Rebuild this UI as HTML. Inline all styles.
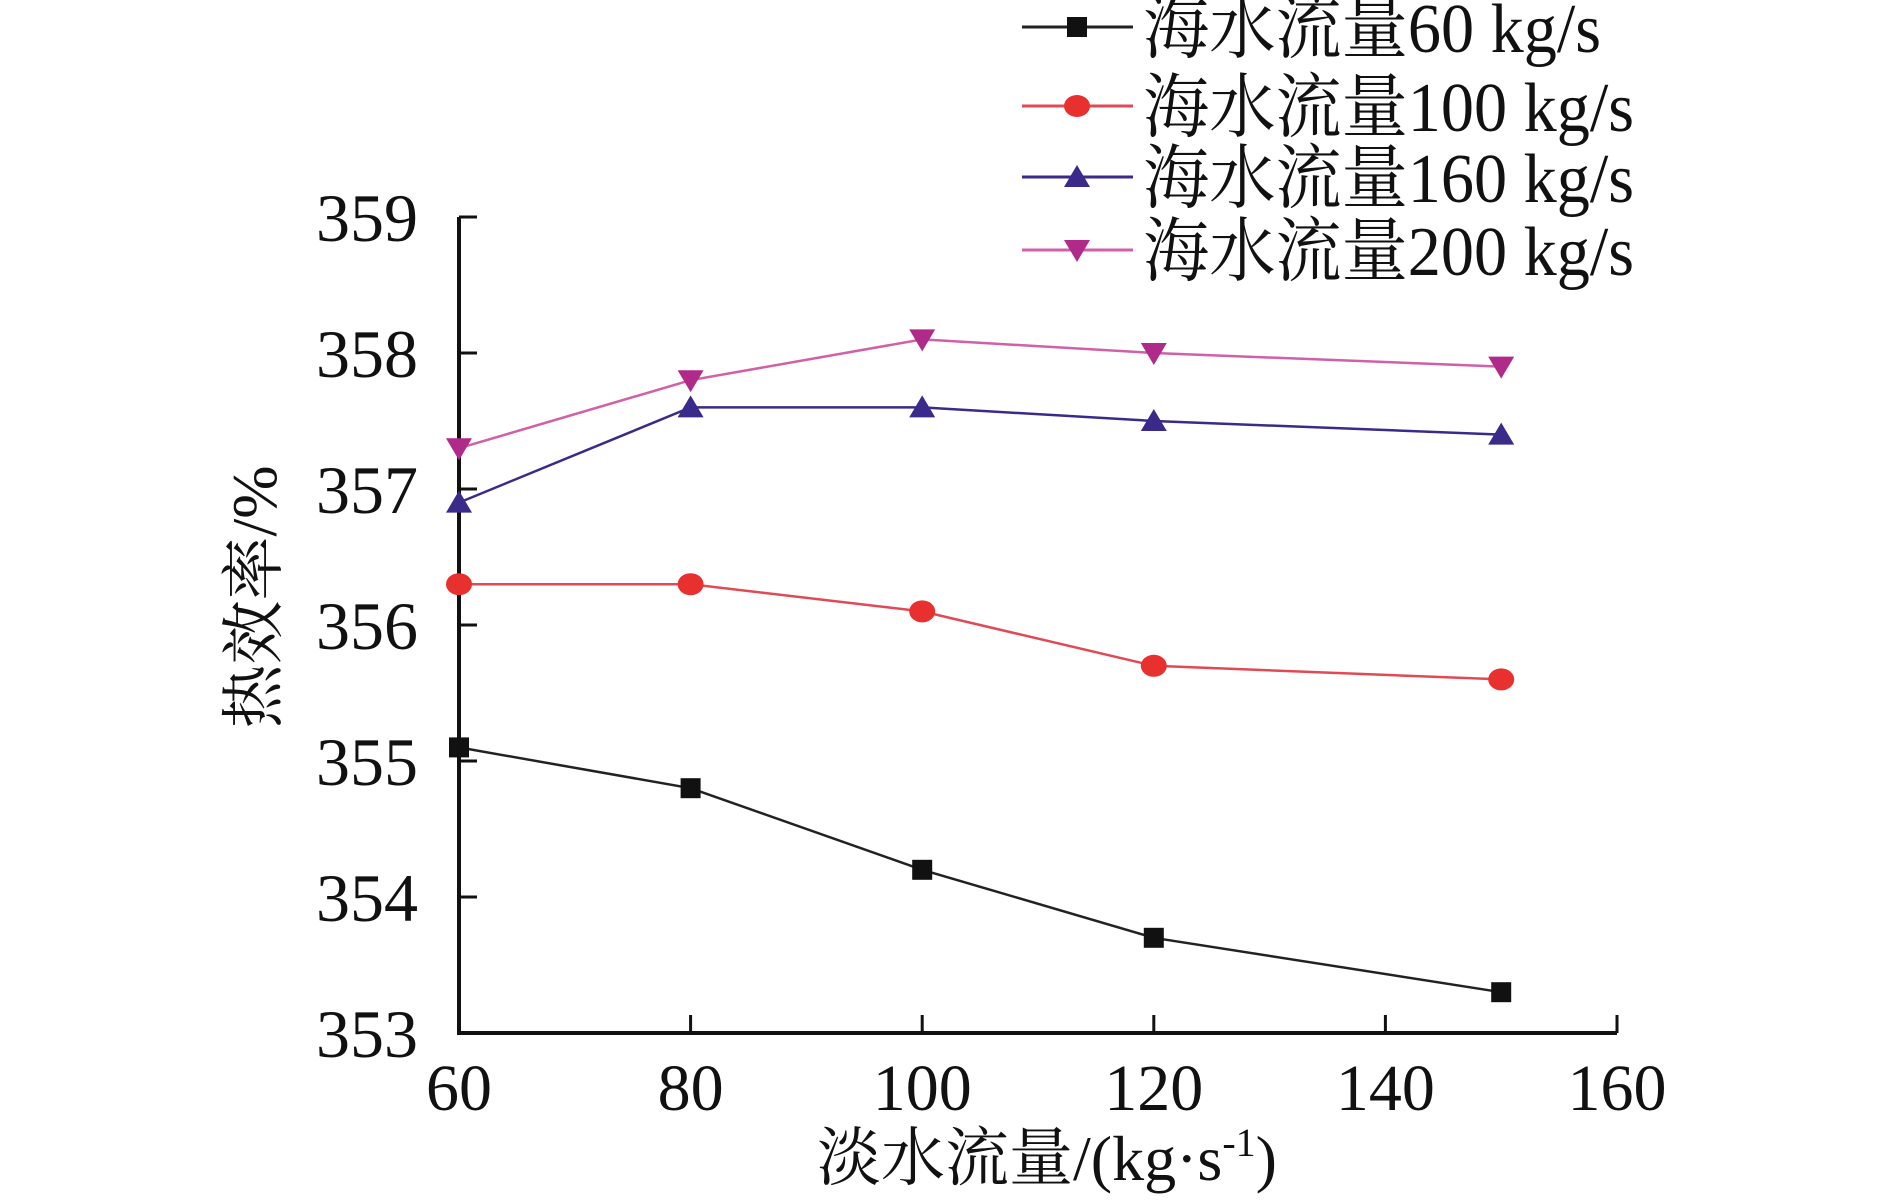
<!DOCTYPE html>
<html><head><meta charset="utf-8"><style>
body{margin:0;background:#fff}
svg text{font-family:"Liberation Serif","Noto Serif CJK SC",serif;fill:#111}
</style></head><body>
<svg id="chart" width="1890" height="1196" viewBox="0 0 1890 1196" xmlns="http://www.w3.org/2000/svg"></svg>
<script>
const categories=[60,80,100,120,150];
const s60=[355.1,354.8,354.2,353.7,353.3];
const s100=[356.3,356.3,356.1,355.7,355.6];
const s160=[356.9,357.6,357.6,357.5,357.4];
const s200=[357.3,357.8,358.1,358.0,357.9];
const xTicks=[60,80,100,120,140,160];
const yTicks=[353,354,355,356,357,358,359];
const seriesNames=["海水流量60 kg/s","海水流量100 kg/s","海水流量160 kg/s","海水流量200 kg/s"];

const NS="http://www.w3.org/2000/svg";
const svg=document.getElementById('chart');
const X0=459,X1=1617,Y0=1033,Y1=217;
function xs(v){return X0+(v-60)/(160-60)*(X1-X0);}
function ys(v){return Y0-(v-353)/(359-353)*(Y0-Y1);}
function mk(tag,attrs,parent){const e=document.createElementNS(NS,tag);for(const k in attrs)e.setAttribute(k,attrs[k]);(parent||svg).appendChild(e);return e;}

const ax=mk('path',{d:`M${X0} ${Y1}V${Y0}H${X1}`,stroke:'#111',fill:'none','stroke-width':4});


yTicks.forEach(t=>{
  const y=ys(t);
  const l=mk('line',{x1:X0,x2:X0+18,y1:y,y2:y,stroke:'#111','stroke-width':3});
  
  
  const tx=mk('text',{x:418,y:y+24,'text-anchor':'end','font-size':68});
  tx.textContent=t;
  
  
});
xTicks.forEach(t=>{
  const x=xs(t);
  const l=mk('line',{x1:x,x2:x,y1:Y0,y2:Y0-18,stroke:'#111','stroke-width':3});
  
  
  const tx=mk('text',{x:x,y:1110,'text-anchor':'middle','font-size':66});
  tx.textContent=t;
  
  
});
const xt=mk('text',{x:1047,y:1180,'text-anchor':'middle','font-size':64});
xt.innerHTML='淡水流量/(kg·s<tspan dy="-24" font-size="40">-1</tspan><tspan dy="24">)</tspan>';


const yt=mk('text',{x:0,y:0,'text-anchor':'middle','font-size':64,transform:'translate(276,597) rotate(-90)'});
yt.textContent='热效率/%';



const colors=['#111','#e8302e','#3a2a8a','#b02a8a'];
const lineColors=['#222','#e04a55','#3a2a8a','#d060a8'];
const all=[s60,s100,s160,s200];
function marker(i,x,y,g){
  let m;
  if(i===0)m=mk('rect',{x:x-10,y:y-10,width:20,height:20,fill:colors[i]},g);
  else if(i===1)m=mk('ellipse',{cx:x,cy:y,rx:13,ry:11,fill:colors[i]},g);
  else if(i===2)m=mk('path',{d:`M${x} ${y-12}L${x+13} ${y+10}L${x-13} ${y+10}Z`,fill:colors[i]},g);
  else m=mk('path',{d:`M${x-13} ${y-10}L${x+13} ${y-10}L${x} ${y+12}Z`,fill:colors[i]},g);
  return m;
}
all.forEach((arr,i)=>{
  const g=mk('g',{});
  
  
  const pts=arr.map((v,j)=>xs(categories[j])+','+ys(v)).join(' ');
  mk('polyline',{points:pts,fill:'none',stroke:lineColors[i],'stroke-width':2.5},g);
  arr.forEach((v,j)=>{
    const m=marker(i,xs(categories[j]),ys(v),g);
    
    
  });
});
const rows=[27,106,177,250];
const widths=[458,491,491,491];
seriesNames.forEach((n,i)=>{
  const g=mk('g',{});
  
  
  const y=rows[i];
  mk('line',{x1:1022,x2:1133,y1:y,y2:y,stroke:lineColors[i],'stroke-width':3},g);
  marker(i,1077,y,g);
  const t=mk('text',{x:1143,y:y+25,'font-size':70,textLength:widths[i],lengthAdjust:'spacingAndGlyphs'},g);
  t.textContent=n;
});
</script>
</body></html>
